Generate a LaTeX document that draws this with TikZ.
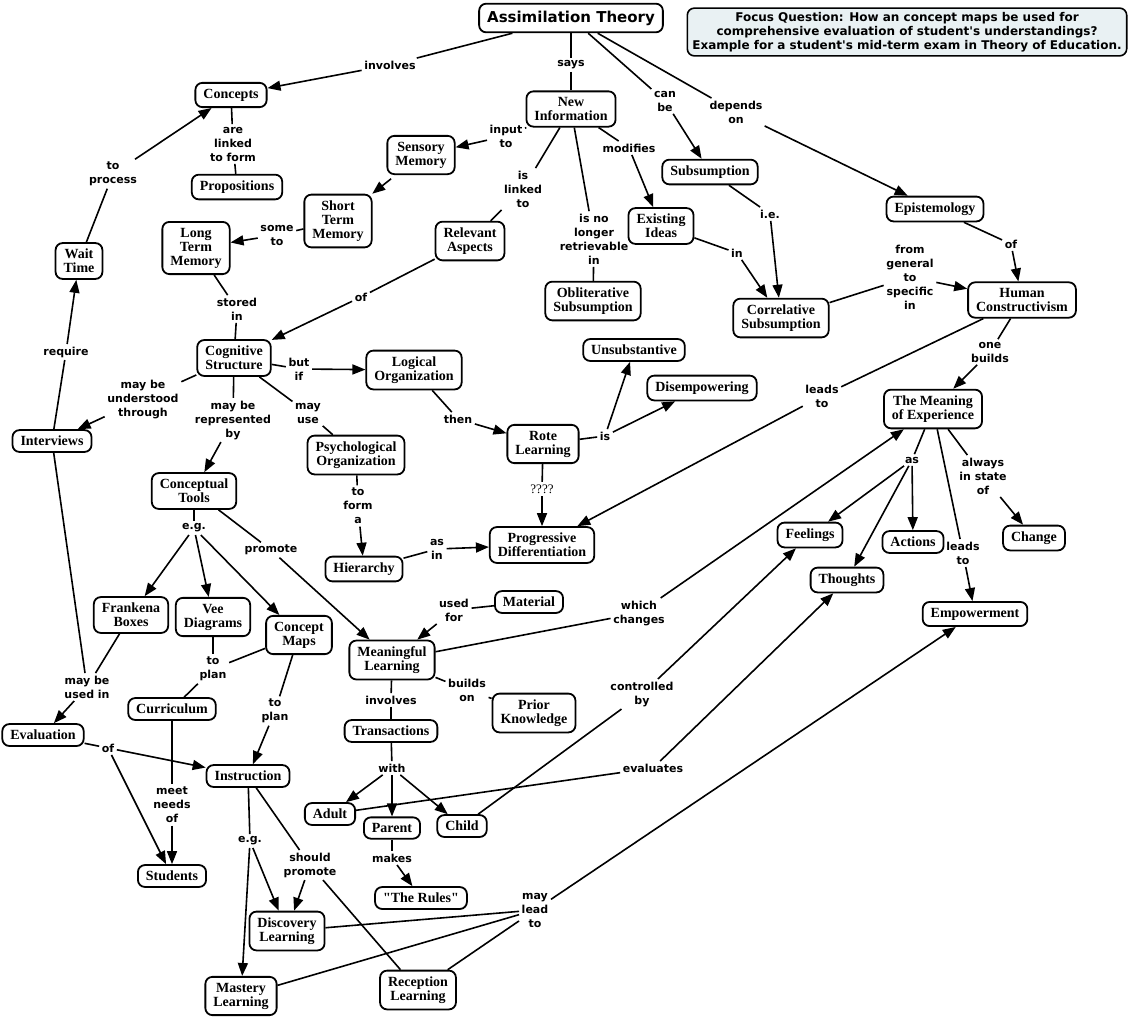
\documentclass[tikz,border=0pt]{standalone}
\usepackage{fontspec}
\setmainfont{Liberation Serif}
\setsansfont{DejaVu Sans}
\usetikzlibrary{arrows.meta}

\definecolor{focusfill}{HTML}{E9F1F3}

\tikzset{
  concept/.style={draw, fill=white, rounded corners=7pt, line width=1.8pt, align=center,
    font=\bfseries\fontsize{14}{14}\selectfont, inner xsep=8pt, inner ysep=6pt},
  title/.style={concept, font=\sffamily\bfseries\fontsize{15}{16}\selectfont, inner ysep=7pt},
  focus/.style={draw, fill=focusfill, rounded corners=7pt, line width=1.6pt, align=center,
    font=\sffamily\bfseries\fontsize{12}{14}\selectfont, inner xsep=5pt, inner ysep=4pt},
  link/.style={align=center, font=\sffamily\bfseries\fontsize{11}{14}\selectfont, inner sep=2.5pt},
  conn/.style={line width=1.6pt},
  arr/.style={conn, -{Triangle[length=13pt,width=10pt]}},
}

\begin{document}
\begin{tikzpicture}[x=1pt, y=-1pt]
\useasboundingbox (0,0) rectangle (1132,1021);

% Title and focus question
\node[title] (assim) at (571,18) {Assimilation Theory};
\node[focus] (focus) at (907,32) {Focus Question: How an concept maps be used for\\
  comprehensive evaluation of student\textquotesingle s understandings?\\
  Example for a student\textquotesingle s mid-term exam in Theory of Education.};

% Concepts
\node[concept] (concepts) at (231,95) {Concepts};
\node[concept] (props) at (237,187) {Propositions};
\node[concept] (wait) at (79,261) {Wait\\Time};
\node[concept] (ltm) at (196,248) {Long\\Term\\Memory};
\node[concept] (stm) at (338,221) {Short\\Term\\Memory};
\node[concept] (sensory) at (421,155) {Sensory\\Memory};
\node[concept] (newinfo) at (571,109) {New\\Information};
\node[concept] (relevant) at (470,241) {Relevant\\Aspects};
\node[concept] (subsum) at (710,172) {Subsumption};
\node[concept] (existing) at (661,226) {Existing\\Ideas};
\node[concept] (oblit) at (593,301) {Obliterative\\Subsumption};
\node[concept] (episte) at (935,209) {Epistemology};
\node[concept] (correl) at (781,318) {Correlative\\Subsumption};
\node[concept] (human) at (1022,300) {Human\\Constructivism};
\node[concept] (cogstr) at (234,358) {Cognitive\\Structure};
\node[concept] (logical) at (414,370) {Logical\\Organization};
\node[concept] (unsub) at (634,350) {Unsubstantive};
\node[concept] (disemp) at (702,388) {Disempowering};
\node[concept] (interviews) at (52,441) {Interviews};
\node[concept] (rote) at (543,444) {Rote\\Learning};
\node[concept] (psych) at (356,455) {Psychological\\Organization};
\node[concept] (meaning) at (933,409) {The Meaning\\of Experience};
\node[concept] (ctools) at (194,491) {Conceptual\\Tools};
\node[concept] (progdiff) at (542,545) {Progressive\\Differentiation};
\node[concept] (hierarchy) at (364,569) {Hierarchy};
\node[concept] (feelings) at (810,535) {Feelings};
\node[concept] (actions) at (913,542) {Actions};
\node[concept] (change) at (1034,538) {Change};
\node[concept] (thoughts) at (847,580) {Thoughts};
\node[concept] (empower) at (975,614) {Empowerment};
\node[concept] (frankena) at (131,615) {Frankena\\Boxes};
\node[concept] (vee) at (213,617) {Vee\\Diagrams};
\node[concept] (cmaps) at (299,635) {Concept\\Maps};
\node[concept] (material) at (529,602) {Material};
\node[concept] (meanlearn) at (392,660) {Meaningful\\Learning};
\node[concept] (prior) at (534,713) {Prior\\Knowledge};
\node[concept] (curric) at (172,709) {Curriculum};
\node[concept] (evaluation) at (43,735) {Evaluation};
\node[concept] (trans) at (391,731) {Transactions};
\node[concept] (instruction) at (248,776) {Instruction};
\node[concept] (adult) at (330,814) {Adult};
\node[concept] (parent) at (392,828) {Parent};
\node[concept] (child) at (462,826) {Child};
\node[concept] (students) at (172,876) {Students};
\node[concept] (rules) at (421,898) {\textquotedbl The Rules\textquotedbl};
\node[concept] (discovery) at (287,931) {Discovery\\Learning};
\node[concept] (mastery) at (241,996) {Mastery\\Learning};
\node[concept] (reception) at (418,990) {Reception\\Learning};

% Linking phrases
\node[link] (linvolves) at (390,65) {involves};
\node[link] (lsays) at (571,65) {says};
\node[link] (lcanbe) at (665,101) {can\\be};
\node[link] (ldepends) at (736,112) {depends\\on};
\node[link] (llinked) at (233,144) {are\\linked\\to form};
\node[link] (lprocess) at (113,174) {to\\process};
\node[link] (linput) at (506,136) {input\\to};
\node[link] (lmodifies) at (629,148) {modifies};
\node[link] (lislinked) at (523,189) {is\\linked\\to};
\node[link] (lnolonger) at (594,239) {is no\\longer\\retrievable\\in};
\node[link] (lie) at (770,214) {i.e.};
\node[link] (lin) at (737,253) {in};
\node[link] (lsometo) at (277,235) {some\\to};
\node[link] (lgeneral) at (910,277) {from\\general\\to\\specific\\in};
\node[link] (lofepi) at (1011,244) {of};
\node[link] (lstored) at (237,309) {stored\\in};
\node[link] (lofrel) at (361,297) {of};
\node[link] (lbuilds) at (990,352) {one\\builds};
\node[link] (lleadsprog) at (822,396) {leads\\to};
\node[link] (lrequire) at (66,352) {require};
\node[link] (lbutif) at (299,369) {but\\if};
\node[link] (lunderstood) at (143,399) {may be\\understood\\through};
\node[link] (lrepresented) at (233,420) {may be\\represented\\by};
\node[link] (lmayuse) at (308,413) {may\\use};
\node[link] (lthen) at (458,419) {then};
\node[link] (lis) at (605,436) {is};
\node[link, font=\fontsize{13}{14}\selectfont] (lquery) at (542,489) {????};
\node[link] (lform) at (358,506) {to\\form\\a};
\node[link] (las) at (912,460) {as};
\node[link] (lalways) at (983,476) {always\\in state\\of};
\node[link] (lleadsemp) at (963,553) {leads\\to};
\node[link] (legtools) at (194,528) {e.g.};
\node[link] (lpromote) at (271,550) {promote};
\node[link] (lasin) at (437,549) {as\\in};
\node[link] (lused) at (454,610) {used\\for};
\node[link] (lchanges) at (639,613) {which\\changes};
\node[link] (lplancur) at (213,669) {to\\plan};
\node[link] (lplanins) at (275,711) {to\\plan};
\node[link] (lusedin) at (87,687) {may be\\used in};
\node[link] (lofeval) at (108,748) {of};
\node[link] (lneeds) at (172,805) {meet\\needs\\of};
\node[link] (leginstr) at (250,841) {e.g.};
\node[link] (lshould) at (310,865) {should\\promote};
\node[link] (lbuildson) at (467,690) {builds\\on};
\node[link] (linvtrans) at (391,700) {involves};
\node[link] (lwith) at (392,768) {with};
\node[link] (lmakes) at (392,858) {makes};
\node[link] (lcontrolled) at (642,694) {controlled\\by};
\node[link] (levaluates) at (653,768) {evaluates};
\node[link] (lmaylead) at (535,910) {may\\lead\\to};

% Connectors
\draw[conn] (assim) -- (linvolves);
\draw[arr] (linvolves) -- (concepts);
\draw[conn] (assim) -- (lsays);
\draw[conn] (lsays) -- (newinfo);
\draw[conn] (assim) -- (lcanbe);
\draw[arr] (lcanbe) -- (subsum);
\draw[conn] (assim) -- (ldepends);
\draw[arr] (ldepends) -- (episte);
\draw[conn] (concepts) -- (llinked);
\draw[conn] (llinked) -- (props);
\draw[conn] (wait) -- (lprocess);
\draw[arr] (lprocess) -- (concepts);
\draw[conn] (interviews) -- (lrequire);
\draw[arr] (lrequire) -- (wait);
\draw[conn] (newinfo) -- (linput);
\draw[arr] (linput) -- (sensory);
\draw[arr, shorten <=6pt] (sensory) -- (stm);
\draw[conn] (stm) -- (lsometo);
\draw[arr] (lsometo) -- (ltm);
\draw[conn] (newinfo) -- (lislinked);
\draw[conn] (lislinked) -- (relevant);
\draw[conn] (newinfo) -- (lnolonger);
\draw[conn] (lnolonger) -- (oblit);
\draw[conn] (newinfo) -- (lmodifies);
\draw[arr] (lmodifies) -- (existing);
\draw[conn] (subsum) -- (lie);
\draw[arr] (lie) -- (correl);
\draw[conn] (existing) -- (lin);
\draw[arr] (lin) -- (correl);
\draw[conn] (episte) -- (lofepi);
\draw[arr] (lofepi) -- (human);
\draw[conn] (correl) -- (lgeneral);
\draw[arr] (lgeneral) -- (human);
\draw[conn] (ltm) -- (lstored);
\draw[conn] (lstored) -- (cogstr);
\draw[conn] (relevant) -- (lofrel);
\draw[arr] (lofrel) -- (cogstr);
\draw[conn] (human) -- (lbuilds);
\draw[arr] (lbuilds) -- (meaning);
\draw[conn] (human) -- (lleadsprog);
\draw[arr] (lleadsprog) -- (progdiff);
\draw[conn] (cogstr) -- (lbutif);
\draw[arr] (lbutif) -- (logical);
\draw[conn] (cogstr) -- (lunderstood);
\draw[arr] (lunderstood) -- (interviews);
\draw[conn] (cogstr) -- (lrepresented);
\draw[arr] (lrepresented) -- (ctools);
\draw[conn] (cogstr) -- (lmayuse);
\draw[conn] (lmayuse) -- (psych);
\draw[conn] (logical) -- (lthen);
\draw[arr] (lthen) -- (rote);
\draw[conn] (rote) -- (lis);
\draw[arr] (lis) -- (unsub);
\draw[arr] (lis) -- (disemp);
\draw[conn] (rote) -- (lquery);
\draw[arr] (lquery) -- (progdiff);
\draw[conn] (psych) -- (lform);
\draw[arr] (lform) -- (hierarchy);
\draw[conn] (hierarchy) -- (lasin);
\draw[arr] (lasin) -- (progdiff);
\draw[conn] (meaning) -- (las);
\draw[arr] (las) -- (feelings);
\draw[arr] (las) -- (thoughts);
\draw[arr] (las) -- (actions);
\draw[conn] (meaning) -- (lalways);
\draw[arr] (lalways) -- (change);
\draw[conn] (meaning) -- (lleadsemp);
\draw[arr] (lleadsemp) -- (empower);
\draw[conn] (ctools) -- (legtools);
\draw[arr] (legtools) -- (frankena);
\draw[arr] (legtools) -- (vee);
\draw[arr] (legtools) -- (cmaps);
\draw[conn] (ctools) -- (lpromote);
\draw[arr] (lpromote) -- (meanlearn);
\draw[conn] (material) -- (lused);
\draw[arr] (lused) -- (meanlearn);
\draw[conn] (meanlearn) -- (lchanges);
\draw[arr] (lchanges) -- (meaning);
\draw[conn] (meanlearn) -- (lbuildson);
\draw[conn] (lbuildson) -- (prior);
\draw[conn] (meanlearn) -- (linvtrans);
\draw[conn] (linvtrans) -- (trans);
\draw[conn] (vee) -- (lplancur);
\draw[conn] (cmaps) -- (lplancur);
\draw[conn] (lplancur) -- (curric);
\draw[conn] (cmaps) -- (lplanins);
\draw[arr] (lplanins) -- (instruction);
\draw[conn] (frankena) -- (lusedin);
\draw[conn] (interviews) -- (lusedin);
\draw[arr] (lusedin) -- (evaluation);
\draw[conn] (evaluation) -- (lofeval);
\draw[arr] (lofeval) -- (instruction);
\draw[arr] (lofeval) -- (students);
\draw[conn] (curric) -- (lneeds);
\draw[arr] (lneeds) -- (students);
\draw[conn] (instruction) -- (leginstr);
\draw[arr] (leginstr) -- (discovery);
\draw[arr] (leginstr) -- (mastery);
\draw[conn] (instruction) -- (lshould);
\draw[arr] (lshould) -- (discovery);
\draw[conn] (lshould) -- (reception);
\draw[conn] (trans) -- (lwith);
\draw[arr] (lwith) -- (adult);
\draw[arr] (lwith) -- (parent);
\draw[arr] (lwith) -- (child);
\draw[conn] (parent) -- (lmakes);
\draw[arr] (lmakes) -- (rules);
\draw[conn] (child) -- (lcontrolled);
\draw[arr] (lcontrolled) -- (feelings);
\draw[conn] (adult) -- (levaluates);
\draw[arr] (levaluates) -- (thoughts);
\draw[conn] (discovery) -- (lmaylead);
\draw[conn] (mastery) -- (lmaylead);
\draw[conn] (reception) -- (lmaylead);
\draw[arr] (lmaylead) -- (empower);
\end{tikzpicture}
\end{document}
